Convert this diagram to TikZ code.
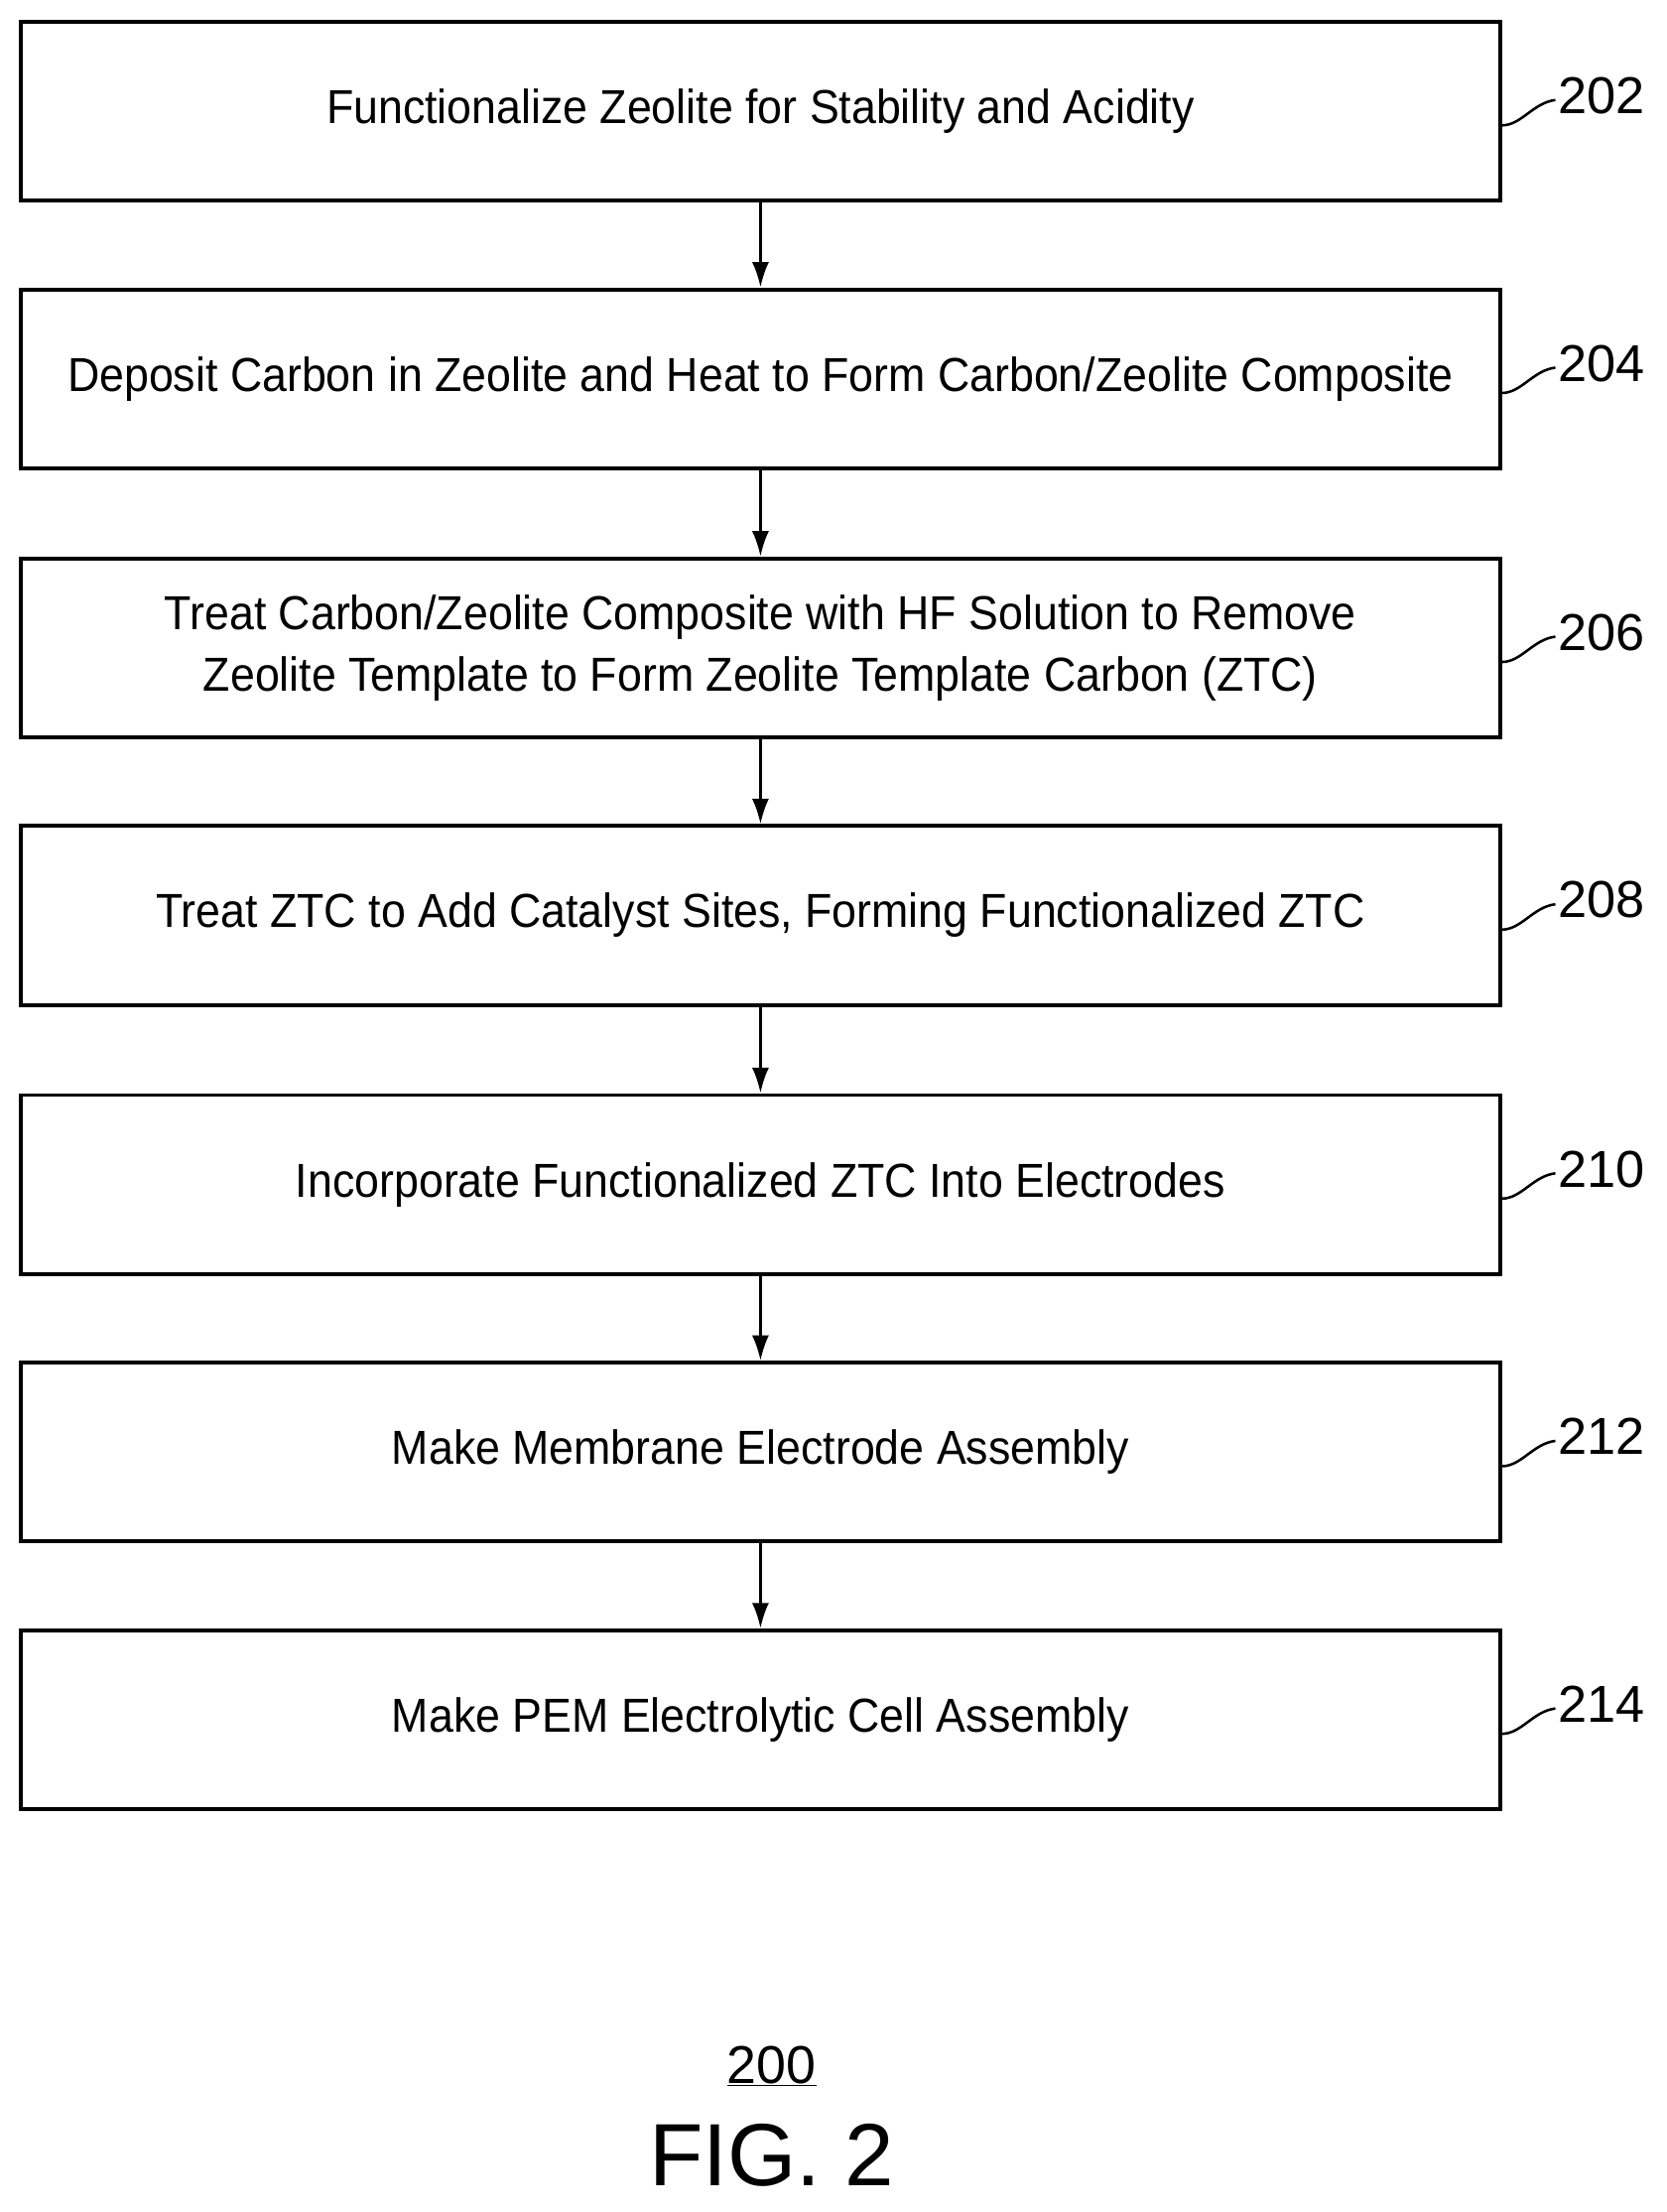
\documentclass[tikz,border=0pt]{standalone}
\usepackage{fontspec}
\setmainfont{Liberation Sans}
\newfontfamily\narrowf[FakeStretch=0.93]{Liberation Sans}
\usetikzlibrary{arrows.meta}
\begin{document}
\begin{tikzpicture}[x=1bp,y=-1bp,
  stepbox/.style={draw,line width=2.8pt,minimum width=1050bp,minimum height=127bp,align=center,inner sep=0pt,font=\narrowf\fontsize{34}{44}\selectfont},
  lbl/.style={font=\fontsize{37}{40}\selectfont,anchor=west,inner sep=2bp},
  arr/.style={line width=2pt,-{Latex[length=18bp,width=12bp]}}]
\useasboundingbox (0,0) rectangle (1183,1570.5);
\def\bx{540}
\node[stepbox] (b1) at (\bx,79) {Functionalize Zeolite for Stability and Acidity};
\node[stepbox] (b2) at (\bx,269) {Deposit Carbon in Zeolite and Heat to Form Carbon/Zeolite Composite};
\node[stepbox] (b3) at (\bx,460) {Treat Carbon/Zeolite Composite with HF Solution to Remove\\Zeolite Template to Form Zeolite Template Carbon (ZTC)};
\node[stepbox] (b4) at (\bx,650) {Treat ZTC to Add Catalyst Sites, Forming Functionalized ZTC};
\node[stepbox] (b5) at (\bx,841) {Incorporate Functionalized ZTC Into Electrodes};
\node[stepbox] (b6) at (\bx,1031) {Make Membrane Electrode Assembly};
\node[stepbox] (b7) at (\bx,1221) {Make PEM Electrolytic Cell Assembly};
\foreach \a/\b in {b1/b2,b2/b3,b3/b4,b4/b5,b5/b6,b6/b7} \draw[arr] (\a.south) -- (\b.north);
\foreach \n/\t in {b1/202,b2/204,b3/206,b4/208,b5/210,b6/212,b7/214}{
  \draw[line width=1.8pt] ([yshift=-10bp]\n.east) .. controls +(14,0) and +(-16,2) .. ++(38,-18)
     coordinate (c\n);
  \node[lbl] (l\n) at ([yshift=3bp]c\n) {\t};
}
\node[font=\fontsize{38}{40}\selectfont] (num) at (548,1467) {\underline{200}};
\node[font=\fontsize{63}{70}\selectfont] (fig) at (548,1530) {FIG. 2};
\end{tikzpicture}
\end{document}
